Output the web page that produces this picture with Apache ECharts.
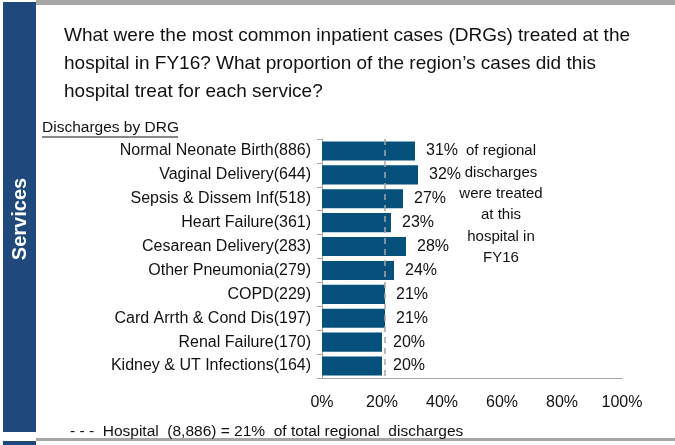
<!DOCTYPE html>
<html><head><meta charset="utf-8">
<script src="https://cdn.jsdelivr.net/npm/echarts@6/dist/echarts.min.js"></script>
<style>html,body{margin:0;padding:0;background:#fff}#c{width:675px;height:445px}</style>
</head><body><div id="c"></div>
<script>
const categories = ["Normal Neonate Birth(886)","Vaginal Delivery(644)","Sepsis & Dissem Inf(518)","Heart Failure(361)","Cesarean Delivery(283)","Other Pneumonia(279)","COPD(229)","Card Arrth & Cond Dis(197)","Renal Failure(170)","Kidney & UT Infections(164)"];
const shares = [31,32,27,23,28,24,21,21,20,20];
const hospitalShare = 21;
const xTicks = [0,20,40,60,80,100];
const titleLines = ["What were the most common inpatient cases (DRGs) treated at the","hospital in FY16? What proportion of the region\u2019s cases did this","hospital treat for each service?"];
const noteLines = ["of regional","discharges","were treated","at this","hospital in","FY16"];

const F = "'Liberation Sans', Arial, sans-serif";
const chart = echarts.init(document.getElementById('c'), null, {renderer:'canvas'});
const graphics = [
  {type:'rect', shape:{x:36,y:0,width:639,height:5}, style:{fill:'#a6a6a6'}},
  {type:'rect', shape:{x:3,y:2,width:33,height:430}, style:{fill:'#1f497d'}},
  {type:'rect', shape:{x:36,y:438,width:639,height:3}, style:{fill:'#a6a6a6'}},
  {type:'rect', shape:{x:3,y:441,width:33,height:4}, style:{fill:'#1f497d'}},
  {type:'text', x:20, y:219, rotation:Math.PI/2, style:{text:'Services', fill:'#fff', font:'bold 20px '+F, align:'center', verticalAlign:'middle'}},
  {type:'text', x:42, y:128, style:{text:'Discharges by DRG', fill:'#111', font:'15.5px '+F, verticalAlign:'middle'}},
  {type:'line', shape:{x1:42,y1:137,x2:178,y2:137}, style:{stroke:'#111', lineWidth:1}},
  {type:'text', x:70, y:432, style:{text:'- - -  Hospital  (8,886) = 21%  of total regional  discharges', fill:'#111', font:'15.5px '+F, verticalAlign:'middle'}}
];
titleLines.forEach((t,i)=>graphics.push({type:'text', x:64, y:36+i*28, style:{text:t, fill:'#111', font:'19px '+F, verticalAlign:'middle'}}));
noteLines.forEach((t,i)=>graphics.push({type:'text', x:501, y:151+i*21.4, style:{text:t, fill:'#111', font:'15px '+F, align:'center', verticalAlign:'middle'}}));

chart.setOption({
  animation:false,
  grid:{left:322, width:300, top:139, height:239, containLabel:false},
  xAxis:{type:'value', min:0, max:100, interval:20,
    axisLine:{show:true, lineStyle:{color:'#a6a6a6'}}, axisTick:{show:false}, splitLine:{show:false},
    axisLabel:{formatter:v=>xTicks.includes(v)?v+'%':'', color:'#111', fontFamily:F, fontSize:16, margin:17}},
  yAxis:{type:'category', data:categories, inverse:true,
    axisLine:{show:true, lineStyle:{color:'#a6a6a6'}},
    axisTick:{show:true, length:5, lineStyle:{color:'#a6a6a6'}},
    axisLabel:{color:'#111', fontFamily:F, fontSize:16, margin:11}},
  series:[{type:'bar', data:shares, barCategoryGap:'20%', itemStyle:{color:'#06507c'},
    label:{show:true, position:'right', distance:11, formatter:'{c}%', color:'#111', fontFamily:F, fontSize:16},
    markLine:{silent:true, symbol:'none', label:{show:false},
      lineStyle:{color:'#a6a6a6', type:[6,5], width:1.5}, data:[{xAxis:hospitalShare}]}
  }],
  graphic:graphics
});
</script></body></html>
